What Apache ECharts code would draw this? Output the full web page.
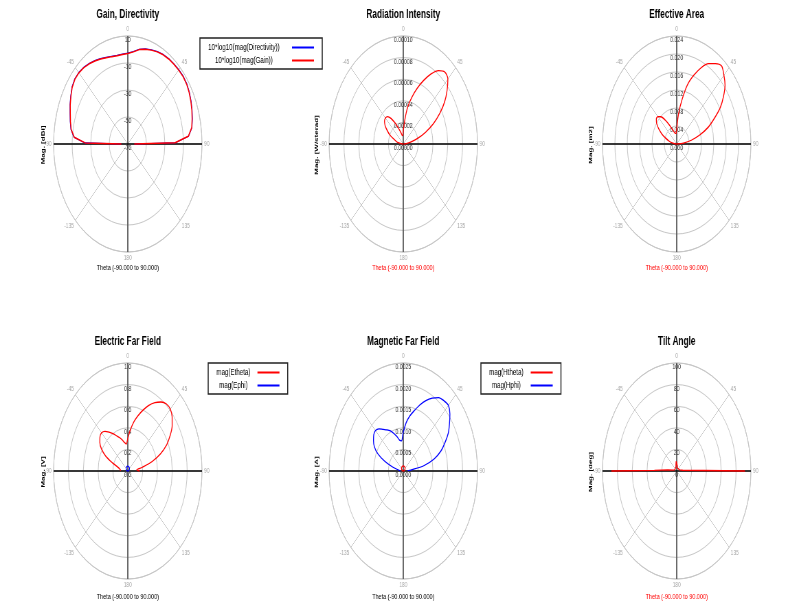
<!DOCTYPE html>
<html><head><meta charset="utf-8">
<script src="https://cdn.jsdelivr.net/npm/echarts/dist/echarts.min.js"></script>
<style>
html,body{margin:0;padding:0;overflow:hidden;background:#fff;width:786px;height:606px}
#wrap{position:absolute;left:0;top:0;width:786px;height:606px;overflow:hidden;background:#fff}
#chart{position:absolute;left:0;top:0;width:1144px;height:606px;transform:scaleX(0.687);transform-origin:0 0}
</style></head><body><div id="wrap"><div id="chart"></div></div>
<script>
// ---- data (theta in degrees) ----
const THETA = [-90,-89,-85,-80,-75,-70,-65,-60,-55,-50,-45,-40,-35,-30,-25,-20,-15,-10,-5,0,5,10,15,20,25,30,35,40,45,50,55,60,65,70,75,80,85,89,90];

const DIRECTIVITY_DBI = [-62.7,-23.7,-11.7,-7.7,-5.7,-3.7,-1.2,1.1,3.5,4.8,4.9,4.1,2.8,1.3,-0.2,-1.7,-2.7,-3.3,-3.1,-2.7,-1.2,1.3,3,4.3,5.6,6.6,7.2,7.5,7.8,8.1,7.7,6.7,5.3,3.8,2.1,0.3,-4.2,-18.7,-62.7];
const GAIN_DBI = [-63,-24,-12,-8,-6,-4,-1.5,0.8,3.2,4.5,4.6,3.8,2.5,1,-0.5,-2,-3,-3.6,-3.4,-3,-1.5,1,2.7,4,5.3,6.3,6.9,7.2,7.5,7.8,7.4,6.4,5,3.5,1.8,0,-4.5,-19,-63];

const RAD_INTENSITY = [0,5e-7,3e-6,7e-6,1.0e-5,1.4e-5,2.0e-5,2.5e-5,3.0e-5,3.3e-5,3.4e-5,3.3e-5,2.9e-5,2.3e-5,1.7e-5,1.3e-5,1.0e-5,8e-6,8e-6,1.2e-5,2.2e-5,3.5e-5,4.5e-5,5.5e-5,6.5e-5,7.5e-5,8.3e-5,8.7e-5,8.5e-5,7.7e-5,6.8e-5,5.7e-5,4.5e-5,3.2e-5,2.0e-5,1.0e-5,4e-6,5e-7,0];

const EFF_AREA = [0,0.0001,0.0007,0.0017,0.0026,0.0038,0.0053,0.0067,0.0079,0.0086,0.0086,0.0079,0.0065,0.0050,0.0038,0.0031,0.0026,0.0024,0.0024,0.0034,0.0067,0.0101,0.0137,0.0163,0.0187,0.0206,0.0218,0.0226,0.0216,0.0204,0.0185,0.0163,0.0134,0.0108,0.0077,0.0048,0.0022,0.0002,0];

const E_THETA = [0.10,0.10,0.10,0.11,0.14,0.22,0.33,0.41,0.46,0.49,0.50,0.48,0.44,0.40,0.36,0.33,0.30,0.27,0.25,0.30,0.38,0.46,0.53,0.60,0.67,0.73,0.78,0.81,0.81,0.78,0.73,0.66,0.58,0.47,0.34,0.20,0.12,0.14,0.16];
const E_PHI = [0,0.001,0.004,0.008,0.012,0.015,0.019,0.023,0.026,0.029,0.032,0.034,0.037,0.039,0.041,0.042,0.043,0.044,0.045,0.045,0.045,0.044,0.043,0.042,0.041,0.039,0.037,0.034,0.032,0.029,0.026,0.023,0.019,0.015,0.012,0.008,0.004,0.001,0];

const H_THETA = [0,2e-6,1.0e-5,2.1e-5,3.1e-5,4.1e-5,5.0e-5,6.0e-5,6.8e-5,7.7e-5,8.4e-5,9.1e-5,9.8e-5,1.03e-4,1.08e-4,1.12e-4,1.15e-4,1.17e-4,1.19e-4,1.2e-4,1.19e-4,1.17e-4,1.15e-4,1.12e-4,1.08e-4,1.03e-4,9.8e-5,9.1e-5,8.4e-5,7.7e-5,6.8e-5,6.0e-5,5.0e-5,4.1e-5,3.1e-5,2.1e-5,1.0e-5,2e-6,0];
const H_PHI = [1.0e-4,1.1e-4,1.25e-4,2.0e-4,4.0e-4,6.75e-4,9.5e-4,1.125e-3,1.225e-3,1.3e-3,1.325e-3,1.275e-3,1.175e-3,1.1e-3,1.025e-3,9.25e-4,8.25e-4,7.25e-4,7.0e-4,9.0e-4,1.125e-3,1.3e-3,1.45e-3,1.625e-3,1.8e-3,1.95e-3,2.075e-3,2.125e-3,2.15e-3,2.05e-3,1.9e-3,1.75e-3,1.55e-3,1.35e-3,1.075e-3,7.0e-4,2.5e-4,1.5e-4,1.5e-4];

const TILT_DEG = [88,30,12,5,4,3,3,2.5,2,2,2,2,2,2,2.5,3,4,6,9,10,8,5,4,3,2.5,2,2,2,2,2,2,2.5,3,3.5,4,5,8,9,92];

// ---- radial tick ranges ----
const GAIN_TICKS = {min:-70, max:10, interval:20};
const RAD_TICKS = {min:0, max:0.0001, interval:0.00002};
const AREA_TICKS = {min:0, max:0.024, interval:0.004};
const E_TICKS = {min:0, max:1.0, interval:0.2};
const H_TICKS = {min:0, max:0.0025, interval:0.0005};
const TILT_TICKS = {min:0, max:100, interval:20};

const XNAME = 'Theta (-90.000 to 90.000)';
const FONT = 'Liberation Sans, Arial, sans-serif';
const RED = '#ff0000', BLUE = '#0000ff', GRID = '#c6c6c6';
const R = 108;

const PANELS = [
  {cx:186, cy:144, title:'Gain, Directivity', yname:'Mag. [dBi]', ynx:63, xcol:'#000', ticks:GAIN_TICKS, fmt:v=>String(Math.round(v)),
   series:[{name:'10*log10(mag(Directivity))', data:DIRECTIVITY_DBI, color:BLUE, w:1.1},{name:'10*log10(mag(Gain))', data:GAIN_DBI, color:RED, w:1.5}], smooth:false},
  {cx:587, cy:144, title:'Radiation Intensity', yname:'Mag. [W/sterad]', ynx:461, xcol:RED, ticks:RAD_TICKS, fmt:v=>v.toFixed(5),
   series:[{name:'U', data:RAD_INTENSITY, color:RED}], smooth:0.3},
  {cx:985, cy:144, title:'Effective Area', yname:'Mag. [m2]', ynx:860, xcol:RED, ticks:AREA_TICKS, fmt:v=>v.toFixed(3),
   series:[{name:'Ae', data:EFF_AREA, color:RED}], smooth:0.3},
  {cx:186, cy:471, title:'Electric Far Field', yname:'Mag. [V]', ynx:63, xcol:'#000', ticks:E_TICKS, fmt:v=>v.toFixed(1),
   series:[{name:'mag(Etheta)', data:E_THETA, color:RED},{name:'mag(Ephi)', data:E_PHI, color:BLUE}], smooth:0.3},
  {cx:587, cy:471, title:'Magnetic Far Field', yname:'Mag. [A]', ynx:461, xcol:'#000', ticks:H_TICKS, fmt:v=>v.toFixed(4),
   series:[{name:'mag(Hphi)', data:H_PHI, color:BLUE},{name:'mag(Htheta)', data:H_THETA, color:RED}], smooth:0.3},
  {cx:985, cy:471, title:'Tilt Angle', yname:'Mag. [deg]', ynx:860, xcol:RED, ticks:TILT_TICKS, fmt:v=>String(Math.round(v)),
   series:[{name:'Tilt', data:TILT_DEG, color:RED}], smooth:false}
];

const option = {
  animation:false,
  backgroundColor:'#fff',
  textStyle:{fontFamily:FONT},
  polar:[], angleAxis:[], radiusAxis:[], series:[], title:[], graphic:[], legend:[]
};

PANELS.forEach((p, i) => {
  const a = 2*i, b = 2*i+1;
  option.polar.push({center:[p.cx, p.cy], radius:R});
  option.polar.push({center:[p.cx, p.cy], radius:R});
  option.angleAxis.push({
    polarIndex:a, type:'value', min:-180, max:180, interval:45, startAngle:270, clockwise:true,
    axisLine:{show:true, lineStyle:{color:GRID, width:1}}, axisTick:{show:false},
    axisLabel:{show:true, color:'#a8a8a8', fontSize:7, margin:3,
      formatter:v => v === -180 ? '180' : (v === 180 ? '' : String(v))},
    splitLine:{show:true, lineStyle:{color:GRID, width:1}}
  });
  option.radiusAxis.push({
    polarIndex:a, type:'value', min:p.ticks.min, max:p.ticks.max, interval:p.ticks.interval,
    axisLine:{show:false}, axisTick:{show:false}, axisLabel:{show:false},
    splitLine:{show:true, lineStyle:{color:GRID, width:1}}
  });
  option.angleAxis.push({
    polarIndex:b, type:'value', min:0, max:360, interval:90, startAngle:90, clockwise:true, z:1,
    axisLine:{show:false}, axisTick:{show:false}, axisLabel:{show:false},
    splitLine:{show:true, lineStyle:{color:['#555','#000'], width:1.7}}
  });
  option.radiusAxis.push({
    polarIndex:b, type:'value', min:p.ticks.min, max:p.ticks.max, interval:p.ticks.interval, z:1,
    axisLine:{show:false}, axisTick:{show:false}, splitLine:{show:false},
    axisLabel:{show:true, fontSize:7.5, color:'#333', margin:0, align:'center', verticalAlign:'top',
      showMinLabel:true, showMaxLabel:true, formatter:p.fmt}
  });
  p.series.forEach(s => {
    option.series.push({
      type:'line', name:s.name, coordinateSystem:'polar', polarIndex:a,
      data: THETA.map((t, j) => [s.data[j], t]),
      symbol:'none', showSymbol:false, smooth:p.smooth,
      lineStyle:{color:s.color, width:s.w || 1.3}, itemStyle:{color:s.color}, z:3
    });
  });
  option.title.push({
    text:p.title, left:p.cx, top:p.cy < 300 ? 9 : 336, textAlign:'center', padding:0,
    textStyle:{fontSize:12, fontWeight:'bold', color:'#000', fontFamily:FONT}
  });
  option.graphic.push({
    type:'text', x:p.ynx, y:p.cy + 1, rotation:Math.PI/2,
    style:{text:p.yname, fontSize:8, fontWeight:'bold', fill:'#000', align:'center', verticalAlign:'middle', font:'bold 8px ' + FONT}
  });
  option.graphic.push({
    type:'text', x:p.cx, y:p.cy < 300 ? 268 : 597,
    style:{text:XNAME, fill:p.xcol, align:'center', verticalAlign:'middle', font:'8px ' + FONT}
  });
});

function legendBox(left, top, names, tw) {
  return {
    orient:'vertical', left:left, top:top, padding:[5,12,4,12], itemGap:4,
    itemWidth:32, itemHeight:2, icon:'rect', align:'right', selectedMode:false,
    borderColor:'#222', borderWidth:1.5, backgroundColor:'#fff',
    data:names,
    formatter:n => '{a|' + n + '}',
    textStyle:{fontSize:9, color:'#000', fontFamily:FONT,
      rich:{a:{width:tw, align:'center', fontSize:9, color:'#000', fontFamily:FONT}}}
  };
}
option.legend.push(legendBox(291, 38, ['10*log10(mag(Directivity))','10*log10(mag(Gain))'], 130));
option.legend.push(legendBox(303, 363, ['mag(Etheta)','mag(Ephi)'], 60));
option.legend.push(legendBox(700, 363, ['mag(Htheta)','mag(Hphi)'], 61));

const chart = echarts.init(document.getElementById('chart'), null, {renderer:'canvas'});
chart.setOption(option);
</script></body></html>
